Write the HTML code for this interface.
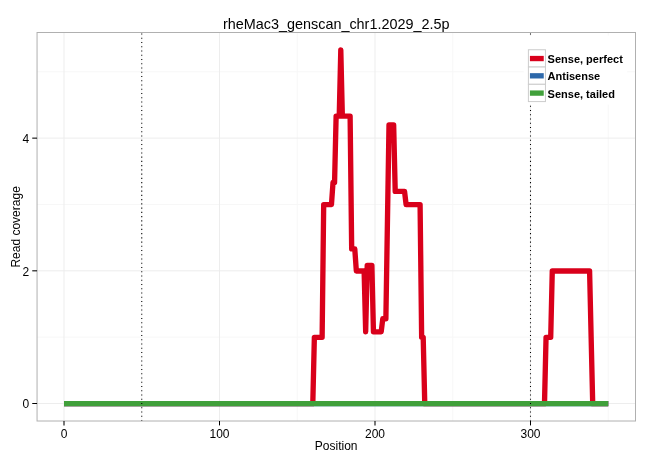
<!DOCTYPE html>
<html><head><meta charset="utf-8"><title>rheMac3_genscan_chr1.2029_2.5p</title>
<style>html,body{margin:0;padding:0;background:#fff}svg text{font-family:"Liberation Sans",sans-serif;fill:#000}</style>
</head><body>
<svg width="650" height="460" viewBox="0 0 650 460" style="display:block;will-change:transform">
<rect width="650" height="460" fill="#fff"/>
<line x1="141.75" x2="141.75" y1="32.5" y2="421.0" stroke="#f7f7f7" stroke-width="1"/>
<line x1="297.25" x2="297.25" y1="32.5" y2="421.0" stroke="#f7f7f7" stroke-width="1"/>
<line x1="452.75" x2="452.75" y1="32.5" y2="421.0" stroke="#f7f7f7" stroke-width="1"/>
<line x1="608.25" x2="608.25" y1="32.5" y2="421.0" stroke="#f7f7f7" stroke-width="1"/>
<line y1="337.16" y2="337.16" x1="37.05" x2="635.5" stroke="#f7f7f7" stroke-width="1"/>
<line y1="204.48" y2="204.48" x1="37.05" x2="635.5" stroke="#f7f7f7" stroke-width="1"/>
<line y1="71.80" y2="71.80" x1="37.05" x2="635.5" stroke="#f7f7f7" stroke-width="1"/>
<line x1="64.00" x2="64.00" y1="32.5" y2="421.0" stroke="#ededed" stroke-width="1"/>
<line x1="219.50" x2="219.50" y1="32.5" y2="421.0" stroke="#ededed" stroke-width="1"/>
<line x1="375.00" x2="375.00" y1="32.5" y2="421.0" stroke="#ededed" stroke-width="1"/>
<line x1="530.50" x2="530.50" y1="32.5" y2="421.0" stroke="#ededed" stroke-width="1"/>
<line y1="403.50" y2="403.50" x1="37.05" x2="635.5" stroke="#ededed" stroke-width="1"/>
<line y1="270.82" y2="270.82" x1="37.05" x2="635.5" stroke="#ededed" stroke-width="1"/>
<line y1="138.14" y2="138.14" x1="37.05" x2="635.5" stroke="#ededed" stroke-width="1"/>
<polyline points="64.00,403.65 312.80,403.65 314.36,337.31 322.13,337.31 323.69,204.63 331.46,204.63 333.01,182.52 334.57,182.52 336.12,116.18 339.24,116.18 340.79,49.84 342.34,116.18 350.12,116.18 351.68,248.86 354.78,248.86 356.34,270.97 364.12,270.97 365.67,331.80 367.22,265.46 371.89,265.46 373.44,331.80 381.22,331.80 382.77,318.73 385.88,318.73 387.44,221.88 389.00,125.02 393.66,125.02 395.21,191.36 404.54,191.36 406.10,204.63 420.09,204.63 421.65,337.31 423.20,337.31 424.76,403.65 544.50,403.65 546.05,337.31 550.71,337.31 552.27,270.97 589.59,270.97 591.14,337.31 592.70,403.65 608.25,403.65" fill="none" stroke="#d9001b" stroke-width="5.33" stroke-linejoin="round" stroke-linecap="butt"/>
<line x1="64.00" x2="608.25" y1="403.65" y2="403.65" stroke="#2d68aa" stroke-width="5.33"/>
<line x1="64.00" x2="608.25" y1="403.65" y2="403.65" stroke="#40a03a" stroke-width="5.33"/>
<line x1="141.75" x2="141.75" y1="421.0" y2="32.5" stroke="#000" stroke-width="1.06" stroke-dasharray="1.062 3.185"/>
<line x1="530.5" x2="530.5" y1="421.0" y2="32.5" stroke="#000" stroke-width="1.06" stroke-dasharray="1.062 3.185"/>
<rect x="523.7" y="35.6" width="103.45" height="69" fill="#fff"/>
<rect x="528.4" y="49.75" width="17.05" height="17.28" fill="#fff" stroke="#cccccc" stroke-width="1"/>
<line x1="529.93" x2="543.75" y1="58.54" y2="58.54" stroke="#d9001b" stroke-width="5.33"/>
<text x="547.6" y="63" font-size="11" font-weight="bold">Sense, perfect</text>
<rect x="528.4" y="67.03" width="17.05" height="17.28" fill="#fff" stroke="#cccccc" stroke-width="1"/>
<line x1="529.93" x2="543.75" y1="75.82" y2="75.82" stroke="#2d68aa" stroke-width="5.33"/>
<text x="547.6" y="80" font-size="11" font-weight="bold">Antisense</text>
<rect x="528.4" y="84.31" width="17.05" height="17.28" fill="#fff" stroke="#cccccc" stroke-width="1"/>
<line x1="529.93" x2="543.75" y1="93.10" y2="93.10" stroke="#40a03a" stroke-width="5.33"/>
<text x="547.6" y="98" font-size="11" font-weight="bold">Sense, tailed</text>
<rect x="37.05" y="32.5" width="598.45" height="388.50" fill="none" stroke="#b0b0b0" stroke-width="1"/>
<line x1="64.00" x2="64.00" y1="421.0" y2="425.4" stroke="#000" stroke-width="1.06"/>
<text x="64.00" y="438.1" font-size="12" text-anchor="middle">0</text>
<line x1="219.50" x2="219.50" y1="421.0" y2="425.4" stroke="#000" stroke-width="1.06"/>
<text x="219.50" y="438.1" font-size="12" text-anchor="middle">100</text>
<line x1="375.00" x2="375.00" y1="421.0" y2="425.4" stroke="#000" stroke-width="1.06"/>
<text x="375.00" y="438.1" font-size="12" text-anchor="middle">200</text>
<line x1="530.50" x2="530.50" y1="421.0" y2="425.4" stroke="#000" stroke-width="1.06"/>
<text x="530.50" y="438.1" font-size="12" text-anchor="middle">300</text>
<line y1="403.50" y2="403.50" x1="32.25" x2="37.05" stroke="#000" stroke-width="1.06"/>
<text x="29.3" y="408" font-size="12" text-anchor="end">0</text>
<line y1="270.82" y2="270.82" x1="32.25" x2="37.05" stroke="#000" stroke-width="1.06"/>
<text x="29.3" y="276" font-size="12" text-anchor="end">2</text>
<line y1="138.14" y2="138.14" x1="32.25" x2="37.05" stroke="#000" stroke-width="1.06"/>
<text x="29.3" y="143" font-size="12" text-anchor="end">4</text>
<text x="336.2" y="28.6" font-size="14.4" text-anchor="middle">rheMac3_genscan_chr1.2029_2.5p</text>
<text x="336.2" y="449.8" font-size="12" text-anchor="middle">Position</text>
<text transform="translate(20.1,226.9) rotate(-90)" font-size="12" text-anchor="middle">Read coverage</text>
</svg>
</body></html>
